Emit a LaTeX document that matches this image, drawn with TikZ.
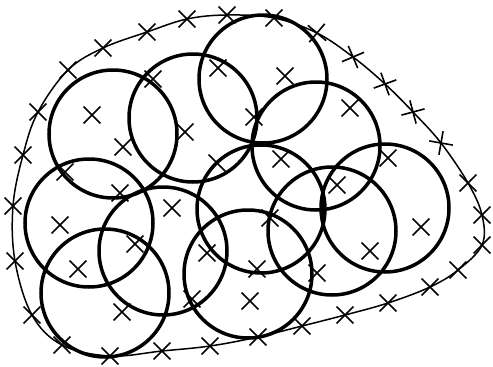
\documentclass[tikz,border=0pt]{standalone}
\newcommand{\xmk}[3][0]{\draw[xm] (#2,#3) +(#1+45:12) -- +(#1+225:12) (#2,#3) +(#1-45:12) -- +(#1+135:12);}
\begin{document}
\begin{tikzpicture}[x=1pt,y=-1pt,
  circ/.style={line width=3.5pt},
  bound/.style={line width=1.5pt},
  xm/.style={line width=1.6pt}]
\useasboundingbox (0,0) rectangle (493,367);
% boundary
\draw[bound] plot[smooth cycle, tension=0.6] coordinates {
(23,155) (38,112) (68,70) (103,48) (147,32) (187,19) (227,15) (274,18)
(317,33) (353,57) (385,84) (413,112) (441,143) (468,183) (482,215) (482,245)
(458,270) (430,287) (388,303) (345,315) (302,326) (258,337) (210,346) (162,351)
(110,356) (62,345) (32,315) (15,261) (13,206)};
% boundary marks
\xmk{23}{155}\xmk{38}{112}\xmk{68}{70}\xmk{103}{48}\xmk{147}{32}\xmk{187}{19}
\xmk{227}{15}\xmk{274}{18}\xmk[-5]{317}{33}\xmk[22]{353}{57}\xmk[25]{385}{84}
\xmk[30]{413}{112}\xmk[55]{441}{143}\xmk{468}{183}\xmk{482}{215}\xmk{482}{245}
\xmk{458}{270}\xmk{430}{287}\xmk{388}{303}\xmk{345}{315}\xmk{302}{326}
\xmk{258}{337}\xmk{210}{346}\xmk{162}{351}\xmk{110}{356}\xmk{62}{345}
\xmk{32}{315}\xmk{15}{261}\xmk{13}{206}
% circles
\foreach \n/\cx/\cy in {c1/113/134, c2/193/118, c3/263/79, c4/316/146, c5/261/209,
  c6/385/208, c7/332/231, c8/248/274, c9/163/251, c10/89/223, c11/105/293}{
  \coordinate (\n) at (\cx,\cy);
  \draw[circ] (\n) circle[radius=64];
}
% interior marks
\xmk{92}{115}\xmk{123}{147}\xmk{153}{79}\xmk{185}{132}\xmk{218}{68}\xmk{285}{76}
\xmk{254}{117}\xmk{217}{163}\xmk{281}{159}\xmk{350}{108}\xmk{388}{158}\xmk{337}{185}
\xmk{65}{172}\xmk{120}{193}\xmk{60}{225}\xmk{172}{208}\xmk{135}{244}\xmk{78}{269}
\xmk{207}{253}\xmk{270}{218}\xmk{257}{269}\xmk{192}{299}\xmk{250}{301}\xmk{122}{312}
\xmk{317}{273}\xmk{370}{251}\xmk{421}{227}
\end{tikzpicture}
\end{document}
